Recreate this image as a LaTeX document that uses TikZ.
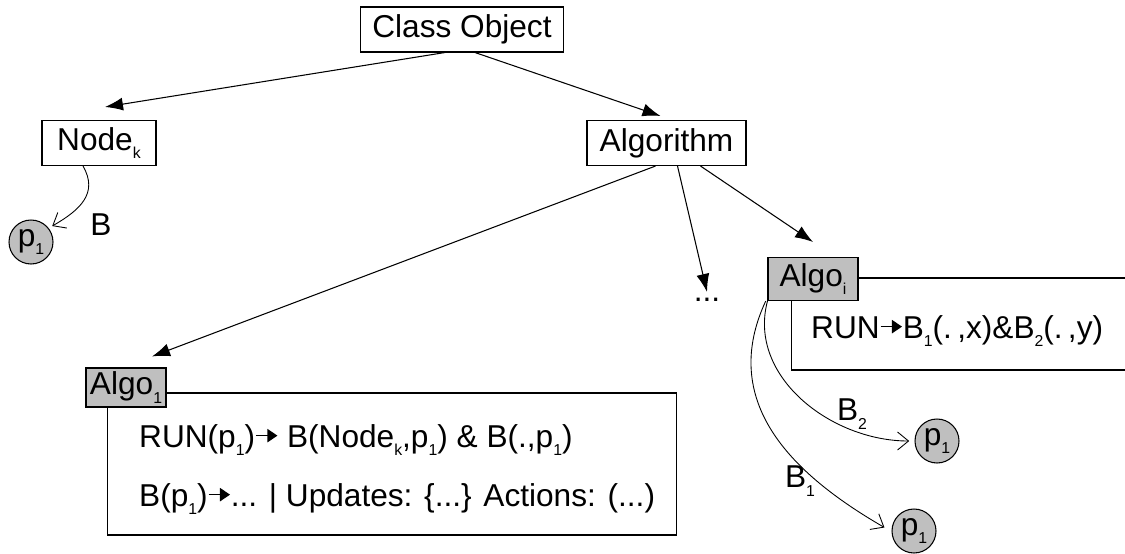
\documentclass[tikz,border=0pt]{standalone}
\usepackage{fontspec}
\setmainfont{Liberation Sans}
\usepackage{tikz}
\usetikzlibrary{arrows.meta}
\usepackage{xcolor}
\newcommand\sub[1]{\raisebox{-0.28em}{\fontsize{9}{9}\selectfont #1}}
\newcommand\goesto{\tikz[baseline=0pt]\draw[line width=0.9pt,-{Triangle[length=0.32em,width=0.42em]}] (0,0.36em) -- (0.68em,0.36em);}

\begin{document}
\begin{tikzpicture}[x=0.02cm,y=-0.02cm,line width=0.6pt,font=\fontsize{18}{22}\selectfont,
  >={Latex[length=3.6mm,width=2.6mm]},
  obj/.style={draw,inner sep=0pt},
  algobox/.style={draw,fill=black!25,inner sep=0pt},
  bodybox/.style={draw,inner sep=0pt},
  ptok/.style={circle,draw,fill=black!25,inner sep=0pt,minimum size=0.88cm},
  behav/.style={-{Straight Barb[length=2.2mm,width=3.6mm]},line width=0.5pt}]
\useasboundingbox (0,0) rectangle (1125,554);
\clip (0,0) rectangle (1125,554);
\node[obj,minimum width=4.06cm,minimum height=0.9cm] (cls) at (462,29.5) {Class Object};
\node[obj,minimum width=2.28cm,minimum height=0.9cm] (nodek) at (99,143) {Node\sub{k}};
\node[obj,minimum width=3.18cm,minimum height=0.9cm] (algo) at (666.5,143) {Algorithm};
\node (dots) at (707,300) {...};
\node[ptok] (pl) at (31,242) {p\sub{1}};
\node (lb) at (101,225) {B};
% Algo_1 and its body
\node[bodybox,minimum width=11.4cm,minimum height=2.84cm] (body1) at (392,464) {};
\node[algobox,minimum width=1.6cm,minimum height=0.78cm] (algo1) at (126,387.5) {Algo\sub{1}};
\node[anchor=west] (run1) at (133,440) {RUN(p\sub{1})\goesto\ B(Node\sub{k},p\sub{1}) \& B(.,p\sub{1})};
\node[anchor=west] (beh1) at (133,499) {B(p\sub{1})\goesto... | Updates: \{...\} Actions: (...)};
% Algo_i and its body
\node[bodybox,minimum width=6.98cm,minimum height=1.84cm] (bodyi) at (965.5,324) {};
\node[algobox,minimum width=1.8cm,minimum height=0.86cm] (algoi) at (813,279) {Algo\sub{i}};
\node[anchor=west] (runi) at (805,331) {RUN\goesto B\sub{1}(.\,,x)\&B\sub{2}(.\,,y)};
\node[ptok] (pb) at (937,441) {p\sub{1}};
\node[ptok] (pa) at (914,531) {p\sub{1}};
\node (lb2) at (852,414) {B\sub{2}};
\node (lb1) at (800,481) {B\sub{1}};

\draw[->] ([xshift=-0.34cm]cls.south) -- ([xshift=0.12cm,yshift=0.26cm]nodek.north);
\draw[->] ([xshift=0.26cm]cls.south) -- ([xshift=-0.12cm,yshift=0.08cm]algo.north);
\draw[->] ([xshift=-0.22cm]algo.south) -- ([xshift=0.52cm,yshift=0.22cm]algo1.north);
\draw[->] ([xshift=0.22cm]algo.south) -- (dots.north);
\draw[->] ([xshift=0.68cm]algo.south) -- ([yshift=0.3cm]algoi.north);
\draw[behav] ([xshift=-0.32cm]nodek.south) to[out=-60,in=30,looseness=1.2] ([xshift=3pt]pl.north east);
\draw[behav] (algoi.south west) to[out=-105,in=180] ([xshift=-3pt]pb.west);
\draw[behav] ([xshift=-1pt]algoi.south west) to[out=-115,in=150,looseness=1.1] ([xshift=-4pt,yshift=2pt]pa.west);
\end{tikzpicture}
\end{document}
